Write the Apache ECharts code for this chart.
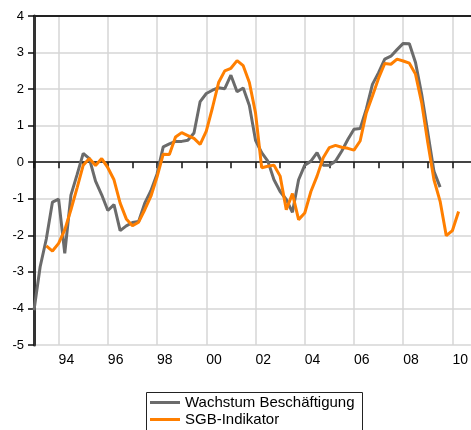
<!DOCTYPE html>
<html>
<head>
<meta charset="utf-8">
<script src="https://cdn.jsdelivr.net/npm/echarts@6/dist/echarts.min.js"></script>
<style>html,body{margin:0;padding:0;background:#fff}#c{width:471px;height:430px}</style>
</head>
<body>
<div id="c"></div>
<script>
// Quarterly periods
var grayStart = [1993, 1];   // 1993Q1
var orangeStart = [1993, 3]; // 1993Q3
var xTicks = [94, 96, 98, 0, 2, 4, 6, 8, 10];
var yTicks = [-5, -4, -3, -2, -1, 0, 1, 2, 3, 4];
var seriesNames = ['Wachstum Beschäftigung', 'SGB-Indikator'];

var wachstum = [
  -4.05, -2.86, -2.10, -1.09,
  -1.01, -2.49, -0.90, -0.34,
   0.24,  0.10, -0.52, -0.89,
  -1.32, -1.16, -1.87, -1.74,
  -1.65, -1.62, -1.12, -0.78,
  -0.32,  0.42,  0.50,  0.57,
   0.57,  0.60,  0.80,  1.66,
   1.88,  1.97,  2.04,  2.01,
   2.38,  1.93,  2.03,  1.55,
   0.60,  0.26,  0.03, -0.48,
  -0.80, -1.02, -1.37, -0.48,
  -0.08,  0.03,  0.26, -0.08,
  -0.08,  0.03,  0.30,  0.62,
   0.90,  0.92,  1.45,  2.13,
   2.45,  2.82,  2.90,  3.08,
   3.25,  3.24,  2.73,  1.86,
   0.81, -0.25, -0.68
];
var sgb = [
  -2.29, -2.43,
  -2.22, -1.85, -1.30, -0.70,
  -0.08,  0.10, -0.09,  0.10,
  -0.15, -0.48, -1.12, -1.55,
  -1.74, -1.64, -1.30, -0.93,
  -0.40,  0.22,  0.21,  0.69,
   0.81,  0.73,  0.65,  0.49,
   0.85,  1.49,  2.18,  2.50,
   2.57,  2.78,  2.64,  2.18,
   1.35, -0.15, -0.11, -0.08,
  -0.38, -1.30, -0.86, -1.57,
  -1.39, -0.80, -0.38,  0.12,
   0.40,  0.46,  0.41,  0.38,
   0.33,  0.58,  1.35,  1.81,
   2.30,  2.70,  2.68,  2.82,
   2.77,  2.71,  2.41,  1.63,
   0.53, -0.48, -1.07, -2.01,
  -1.87, -1.35
];

function toPairs(start, vals) {
  var out = [];
  for (var i = 0; i < vals.length; i++) {
    var q = start[1] - 1 + i;
    var yr = start[0] + Math.floor(q / 4);
    var t = yr + (q % 4) / 4;
    out.push([t, vals[i]]);
  }
  return out;
}

var font = 'Liberation Sans, Arial, sans-serif';
var xMin = 1993, xMax = 2010.75;
var legendCommon = {
  orient: 'vertical', left: 150, padding: 0, itemGap: 0,
  itemWidth: 30, itemHeight: 3,
  textStyle: {color: '#000', fontFamily: font, fontSize: 15}
};
var chart = echarts.init(document.getElementById('c'), null, {renderer: 'canvas'});
chart.setOption({
  animation: false,
  backgroundColor: '#fff',
  grid: {left: 34, top: 16, right: 0, bottom: 85, show: false},
  xAxis: [{
    type: 'value', min: xMin, max: xMax, interval: 1,
    axisLine: {show: true, lineStyle: {color: '#111', width: 1.5}},
    axisTick: {show: true, inside: false, length: 6, lineStyle: {color: '#111', width: 1.5}},
    axisLabel: {
      color: '#000', fontFamily: font, fontSize: 14, align: 'left', margin: 8,
      showMinLabel: true, showMaxLabel: false,
      formatter: function (v) {
        if (Math.abs(v - Math.round(v)) > 1e-6) return '';
        var yy = Math.round(v) % 100;
        if (xTicks.indexOf(yy) < 0) return '';
        return (yy < 10 ? '0' : '') + yy;
      }
    },
    splitLine: {show: true, showMinLine: true, showMaxLine: false, lineStyle: {color: ['transparent', '#d6d6d6'], width: 1.5}}
  }, {
    type: 'value', min: xMin, max: xMax, position: 'top',
    axisLine: {show: true, lineStyle: {color: '#222', width: 2}},
    axisTick: {show: false}, axisLabel: {show: false}, splitLine: {show: false}
  }],
  yAxis: {
    type: 'value', min: yTicks[0], max: yTicks[yTicks.length - 1], interval: 1,
    axisLine: {show: true, lineStyle: {color: '#333', width: 3}},
    axisTick: {show: true, inside: false, length: 6, lineStyle: {color: '#111', width: 1.5}},
    axisLabel: {color: '#000', fontFamily: font, fontSize: 13, margin: 10},
    splitLine: {show: true, lineStyle: {color: '#d6d6d6', width: 1.5}}
  },
  legend: [
    Object.assign({}, legendCommon, {top: 395, data: [{name: seriesNames[0], icon: 'rect'}]}),
    Object.assign({}, legendCommon, {top: 412, data: [{name: seriesNames[1], icon: 'rect'}]})
  ],
  graphic: [{
    type: 'rect', left: 144, top: 390, z: 100,
    shape: {width: 216, height: 50},
    style: {fill: 'none', stroke: '#222', lineWidth: 1}
  }],
  series: [
    {name: seriesNames[0], type: 'line', data: toPairs(grayStart, wachstum), showSymbol: false,
     lineStyle: {color: '#6b6b6b', width: 3}, itemStyle: {color: '#6b6b6b'}, z: 2},
    {name: seriesNames[1], type: 'line', data: toPairs(orangeStart, sgb), showSymbol: false,
     lineStyle: {color: '#ff7f00', width: 3}, itemStyle: {color: '#ff7f00'}, z: 3}
  ]
});
</script>
</body>
</html>
